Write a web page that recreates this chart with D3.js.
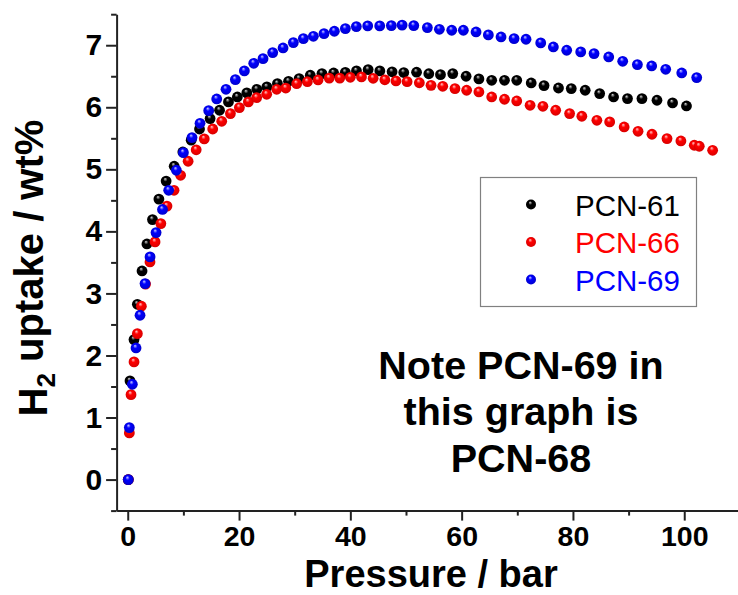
<!DOCTYPE html>
<html>
<head>
<meta charset="utf-8">
<script src="https://cdn.jsdelivr.net/npm/d3@7"></script>
<style>
  body { margin: 0; background: #fff; }
  svg { display: block; font-family: Arial, "Liberation Sans", sans-serif; }
</style>
</head>
<body>
<svg id="chart" width="738" height="595"></svg>
<script>
// PCN-61 (black)
var p61 = [0.1, 0.41, 1.13, 1.73, 2.57, 3.45, 4.45, 5.6, 6.9, 8.35, 9.9, 11.4, 12.9, 14.8, 16.5, 18.1, 19.7, 21.4, 23.2, 25.0,
  26.9, 28.9, 30.8, 32.8, 34.9, 37.0, 39.1, 41.1, 43.2, 45.3, 47.5, 49.6, 51.9, 54.1, 56.2, 58.4, 60.8, 63.1, 65.4, 67.7,
  69.9, 72.5, 74.8, 77.4, 79.7, 82.2, 84.8, 87.3, 89.8, 92.4, 95.1, 97.9, 100.4];
var u61 = [0, 1.59, 2.256, 2.825, 3.362, 3.797, 4.19, 4.52, 4.81, 5.05, 5.28, 5.47, 5.65, 5.818, 5.952, 6.086, 6.166, 6.231, 6.29, 6.328,
  6.381, 6.419, 6.462, 6.516, 6.543, 6.553, 6.562, 6.586, 6.607, 6.586, 6.572, 6.56, 6.565, 6.54, 6.526, 6.543, 6.5, 6.457, 6.435, 6.435,
  6.435, 6.392, 6.349, 6.311, 6.301, 6.274, 6.22, 6.166, 6.14, 6.14, 6.113, 6.07, 6.021];

// PCN-66 (red)
var p66 = [0.1, 0.29, 0.59, 1.13, 1.73, 2.45, 3.2, 4.0, 4.91, 5.95, 7.05, 8.32, 9.5, 10.85, 12.3, 13.75, 15.27, 16.89, 18.45, 20.06,
  21.68, 23.17, 24.97, 26.77, 28.4, 30.36, 32.28, 34.2, 36.2, 38.1, 40.0, 42.0, 44.1, 46.2, 48.2, 50.2, 52.4, 54.5, 56.6, 58.8,
  60.9, 63.1, 65.4, 67.7, 69.9, 72.3, 74.6, 76.9, 79.4, 81.6, 84.3, 86.6, 89.2, 91.7, 94.2, 96.9, 99.4, 101.8, 102.7, 105.1];
var u66 = [0, 0.752, 1.369, 1.896, 2.352, 2.793, 3.15, 3.507, 3.83, 4.125, 4.408, 4.662, 4.904, 5.13, 5.315, 5.49, 5.65, 5.774, 5.898, 5.995,
  6.086, 6.156, 6.209, 6.29, 6.31, 6.38, 6.412, 6.44, 6.47, 6.47, 6.483, 6.489, 6.467, 6.443, 6.424, 6.413, 6.395, 6.354, 6.338, 6.301,
  6.274, 6.247, 6.166, 6.129, 6.102, 6.032, 6.016, 5.952, 5.898, 5.855, 5.79, 5.764, 5.683, 5.613, 5.565, 5.495, 5.457, 5.388, 5.372, 5.307];

// PCN-69 (blue)
var p69 = [0.1, 0.29, 0.83, 1.49, 2.21, 3.11, 4.01, 5.09, 6.25, 7.36, 8.74, 10.0, 11.55, 12.99, 14.55, 15.99, 17.66, 19.34, 20.96, 22.64,
  24.31, 26.05, 27.91, 29.76, 31.56, 33.36, 35.27, 37.13, 39.11, 41.08, 43.12, 45.28, 47.37, 49.3, 51.4, 53.84, 56.0, 58.22, 60.31, 62.59,
  64.8, 67.08, 69.42, 71.57, 74.21, 76.48, 78.88, 81.4, 83.79, 86.43, 88.94, 91.58, 94.15, 96.67, 99.55, 102.24];
var u69 = [0, 0.838, 1.536, 2.121, 2.648, 3.158, 3.588, 3.98, 4.353, 4.662, 4.985, 5.269, 5.511, 5.742, 5.946, 6.134, 6.29, 6.446, 6.586, 6.709,
  6.784, 6.881, 6.956, 7.042, 7.107, 7.144, 7.187, 7.225, 7.268, 7.3, 7.311, 7.311, 7.316, 7.325, 7.316, 7.284, 7.257, 7.241, 7.241, 7.214,
  7.166, 7.133, 7.107, 7.096, 7.037, 6.972, 6.919, 6.892, 6.865, 6.811, 6.741, 6.688, 6.666, 6.612, 6.553, 6.478];

var seriesNames = ["PCN-61", "PCN-66", "PCN-69"];
var xTicks = [0, 20, 40, 60, 80, 100];
var xMinor = [10, 30, 50, 70, 90];
var yTicks = [0, 1, 2, 3, 4, 5, 6, 7];
var yMinor = [-0.5, 0.5, 1.5, 2.5, 3.5, 4.5, 5.5, 6.5, 7.5];
var noteLines = ["Note PCN-69 in", "this graph is", "PCN-68"];

var colors = ["#000000", "#ff0000", "#0000ff"];
var lights = ["#d8d8d8", "#ffd0d0", "#d0d0ff"];
var darks = ["#000000", "#d40000", "#0000c8"];

var svg = d3.select("#chart");

var x = d3.scaleLinear().domain([-2, 110]).range([116.6, 739.9]);
var y = d3.scaleLinear().domain([-0.5, 7.5]).range([510.6, 14.2]);

// sphere-like gradients
var defs = svg.append("defs");
colors.forEach(function (c, i) {
  var g = defs.append("radialGradient")
    .attr("id", "ball" + i)
    .attr("cx", "50%").attr("cy", "50%").attr("r", "55%")
    .attr("fx", "40%").attr("fy", "28%");
  g.append("stop").attr("offset", "0%").attr("stop-color", lights[i]);
  g.append("stop").attr("offset", "35%").attr("stop-color", c);
  g.append("stop").attr("offset", "100%").attr("stop-color", darks[i]);
});

/************************* AXES ******************************/

var axisCol = "#222";

var xAxis = svg.append("g")
  .attr("transform", "translate(0," + y(-0.5) + ")")
  .call(d3.axisBottom(x).tickValues(xTicks).tickSize(10).tickPadding(5.5).tickSizeOuter(0));
xAxis.select(".domain").attr("stroke", axisCol).attr("stroke-width", 2);
xAxis.selectAll(".tick line").attr("stroke", axisCol).attr("stroke-width", 2);
xAxis.selectAll(".tick text")
  .attr("fill", "#000")
  .style("font-size", "28.5px")
  .style("font-weight", "bold");

var xAxisMinor = svg.append("g")
  .attr("transform", "translate(0," + y(-0.5) + ")")
  .call(d3.axisBottom(x).tickValues(xMinor).tickSize(5).tickFormat(""));
xAxisMinor.select(".domain").remove();
xAxisMinor.selectAll(".tick line").attr("stroke", axisCol).attr("stroke-width", 2);

var yAxis = svg.append("g")
  .attr("transform", "translate(" + x(-2) + ",0)")
  .call(d3.axisLeft(y).tickValues(yTicks).tickSize(10.5).tickPadding(4).tickSizeOuter(0));
yAxis.select(".domain").attr("stroke", axisCol).attr("stroke-width", 2);
yAxis.selectAll(".tick line").attr("stroke", axisCol).attr("stroke-width", 2);
yAxis.selectAll(".tick text")
  .attr("fill", "#000")
  .style("font-size", "30px")
  .style("font-weight", "bold");

var yAxisMinor = svg.append("g")
  .attr("transform", "translate(" + x(-2) + ",0)")
  .call(d3.axisLeft(y).tickValues(yMinor).tickSize(5.5).tickFormat(""));
yAxisMinor.select(".domain").remove();
yAxisMinor.selectAll(".tick line").attr("stroke", axisCol).attr("stroke-width", 2);

// axis titles
svg.append("text")
  .attr("x", 431)
  .attr("y", 586.5)
  .attr("text-anchor", "middle")
  .style("font-size", "38px")
  .style("font-weight", "bold")
  .text("Pressure / bar");

var yTitle = svg.append("text")
  .attr("transform", "translate(47,268) rotate(-90)")
  .attr("text-anchor", "middle")
  .style("font-size", "40px")
  .style("font-weight", "bold");
yTitle.append("tspan").text("H");
yTitle.append("tspan").attr("dy", "0.32em").style("font-size", "26px").text("2");
yTitle.append("tspan").attr("dy", "-0.32em").text(" uptake / wt%");

/************************* POINTS ******************************/

var allP = [p61, p66, p69];
var allU = [u61, u66, u69];

allP.forEach(function (pArr, i) {
  var pts = pArr.map(function (p, k) { return { p: p, u: allU[i][k] }; });
  svg.append("g")
    .selectAll("circle")
    .data(pts)
    .enter()
    .append("circle")
    .attr("cx", function (d) { return x(d.p); })
    .attr("cy", function (d) { return y(d.u); })
    .attr("r", 5.4)
    .attr("fill", "url(#ball" + i + ")");
});

/************************* LEGEND ******************************/

var legend = svg.append("g");
legend.append("rect")
  .attr("x", 480.5).attr("y", 177.5)
  .attr("width", 216).attr("height", 129)
  .attr("fill", "none")
  .attr("stroke", "#808080")
  .attr("stroke-width", 1.2);

seriesNames.forEach(function (name, i) {
  var cy = 204.5 + i * 37.5;
  legend.append("circle")
    .attr("cx", 531).attr("cy", cy)
    .attr("r", 5)
    .attr("fill", "url(#ball" + i + ")");
  legend.append("text")
    .attr("x", 575).attr("y", cy + 11)
    .attr("fill", colors[i])
    .style("font-size", "29.5px")
    .text(name);
});

/************************* NOTE ******************************/

svg.append("g")
  .selectAll("text")
  .data(noteLines)
  .enter()
  .append("text")
  .attr("x", 521)
  .attr("y", function (d, i) { return 379 + i * 46.3; })
  .attr("text-anchor", "middle")
  .style("font-size", "39.5px")
  .style("font-weight", "bold")
  .text(function (d) { return d; });
</script>
</body>
</html>
